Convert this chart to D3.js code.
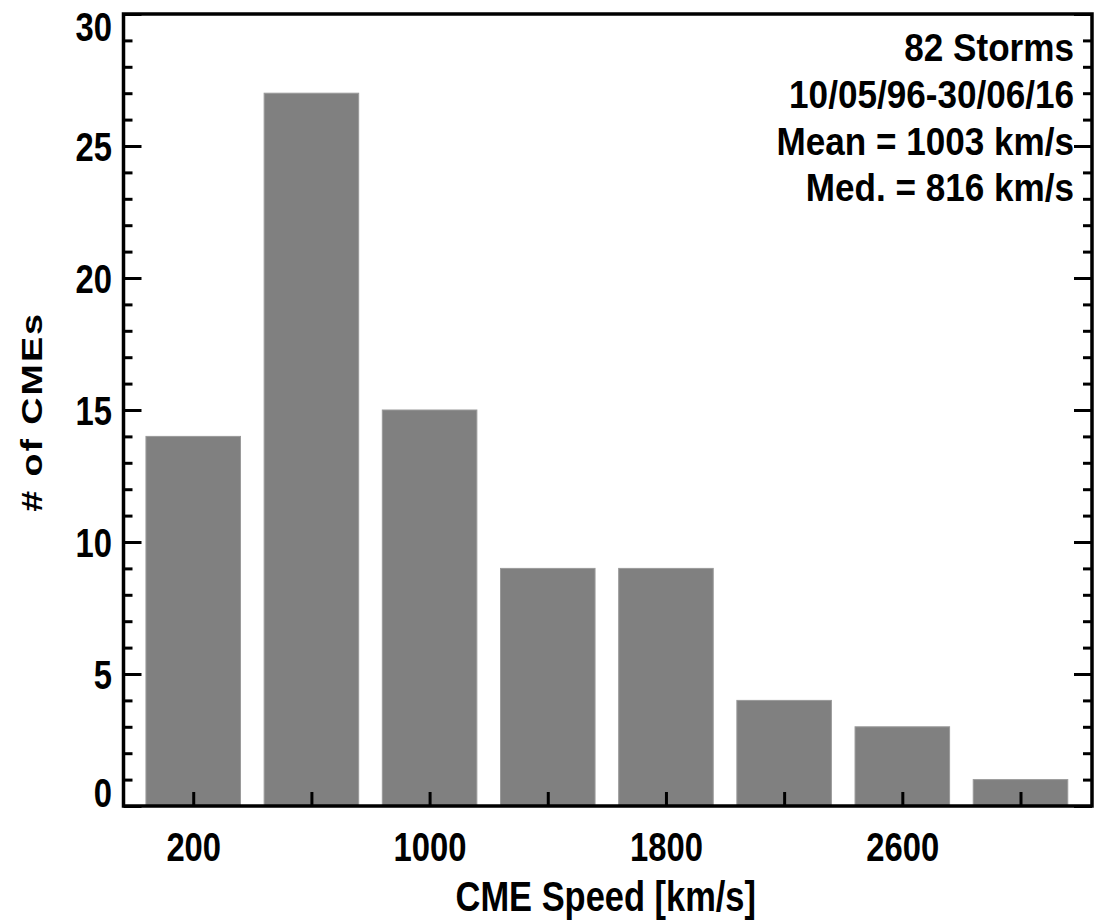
<!DOCTYPE html>
<html>
<head>
<meta charset="utf-8">
<script src="https://cdn.jsdelivr.net/npm/d3@7"></script>
<style>
  html, body { margin: 0; padding: 0; background: #fff; }
  svg { display: block; }
  .lbl { font-family: "Liberation Sans", Arial, Helvetica, sans-serif; font-weight: bold; fill: #000; }
</style>
</head>
<body>
<svg id="chart" width="1110" height="923"></svg>
<script>
// Histogram of CME speeds (bin width 400 km/s, centred on bin mid-points)
const binCenters = [200, 600, 1000, 1400, 1800, 2200, 2600, 3000];
const counts = [14, 27, 15, 9, 9, 4, 3, 1];
const binWidth = 400;
const xTickValues = [200, 600, 1000, 1400, 1800, 2200, 2600, 3000];
const xTickLabels = ["200", "", "1000", "", "1800", "", "2600", ""];
const yMajorTicks = [0, 5, 10, 15, 20, 25, 30];
const yMinorTicks = d3.range(0, 31, 1);
const notes = ["82 Storms", "10/05/96-30/06/16", "Mean = 1003 km/s", "Med. = 816 km/s"];
const xTitle = "CME Speed [km/s]";
const yTitle = "# of CMEs";

const svg = d3.select("#chart");
const plotL = 123.5, plotR = 1092, plotT = 14, plotB = 806;

// horizontal squeeze used for the condensed lettering
const tickSX = 0.82, noteSX = 0.9, titleSX = 0.82;

const x = d3.scaleLinear().domain([-36, 3242]).range([plotL, plotR]);
const y = d3.scaleLinear().domain([0, 30]).range([plotB, plotT]);

// bars: 80% of the bin width
svg.append("g").selectAll("rect")
  .data(binCenters.map((c, i) => ({ c, v: counts[i] })))
  .join("rect")
  .attr("x", d => x(d.c - binWidth * 0.4))
  .attr("width", d => x(d.c + binWidth * 0.4) - x(d.c - binWidth * 0.4))
  .attr("y", d => y(d.v))
  .attr("height", d => y(0) - y(d.v))
  .attr("fill", "#808080")
  .attr("stroke", "#9a9a9a")
  .attr("stroke-width", 1);

// frame
svg.append("rect")
  .attr("x", plotL).attr("y", plotT)
  .attr("width", plotR - plotL).attr("height", plotB - plotT)
  .attr("fill", "none").attr("stroke", "#000").attr("stroke-width", 3.5);

// x axis: ticks pointing inward, labels on every other tick
const xAxis = d3.axisBottom(x)
  .tickValues(xTickValues)
  .tickSizeInner(-14)
  .tickSizeOuter(0)
  .tickPadding(27)
  .tickFormat((d, i) => xTickLabels[i]);
const gx = svg.append("g").attr("transform", `translate(0,${plotB})`).call(xAxis);
gx.select(".domain").remove();
gx.selectAll("line").attr("stroke", "#000").attr("stroke-width", 3);
gx.selectAll("text").attr("class", "lbl").attr("font-size", 40)
  .attr("dy", "0.71em").attr("transform", `scale(${tickSX},1)`);

// y axis (left): major ticks with labels, minor ticks every unit
const yMinorL = d3.axisLeft(y).tickValues(yMinorTicks.filter(v => v % 5 !== 0))
  .tickSizeInner(-9).tickSizeOuter(0).tickFormat("");
const gyMinor = svg.append("g").attr("transform", `translate(${plotL},0)`).call(yMinorL);
gyMinor.select(".domain").remove();
gyMinor.selectAll("line").attr("stroke", "#000").attr("stroke-width", 3);

const yAxisL = d3.axisLeft(y).tickValues(yMajorTicks)
  .tickSizeInner(-18).tickSizeOuter(0).tickFormat(d3.format("d"));
const gy = svg.append("g").attr("transform", `translate(${plotL},0)`).call(yAxisL);
gy.select(".domain").remove();
gy.selectAll("line").attr("stroke", "#000").attr("stroke-width", 3);
// labels at the ends of the range are kept inside the frame height
gy.selectAll("text").attr("class", "lbl").attr("font-size", 40)
  .attr("x", -11.5 / tickSX)
  .attr("y", d => d === 30 ? 12 : d === 0 ? -14 : 0)
  .attr("dy", "0.36em")
  .attr("transform", `scale(${tickSX},1)`);

// y axis (right): mirrored ticks, no labels
const yMinorR = d3.axisRight(y).tickValues(yMinorTicks.filter(v => v % 5 !== 0))
  .tickSizeInner(-9).tickSizeOuter(0).tickFormat("");
const gyr1 = svg.append("g").attr("transform", `translate(${plotR},0)`).call(yMinorR);
gyr1.select(".domain").remove();
gyr1.selectAll("line").attr("stroke", "#000").attr("stroke-width", 3);
const yMajorR = d3.axisRight(y).tickValues(yMajorTicks)
  .tickSizeInner(-18).tickSizeOuter(0).tickFormat("");
const gyr2 = svg.append("g").attr("transform", `translate(${plotR},0)`).call(yMajorR);
gyr2.select(".domain").remove();
gyr2.selectAll("line").attr("stroke", "#000").attr("stroke-width", 3);

// axis titles
svg.append("text").attr("class", "lbl")
  .attr("transform", `translate(${(plotL + plotR) / 2 - 2},911) scale(${titleSX},1)`)
  .attr("text-anchor", "middle").attr("font-size", 42)
  .text(xTitle);

svg.append("text").attr("class", "lbl")
  .attr("transform", `translate(42,${(plotT + plotB) / 2 + 2}) rotate(-90) scale(1.3,1)`)
  .attr("text-anchor", "middle")
  .attr("font-size", 29)
  .attr("letter-spacing", 1.5)
  .text(yTitle);

// annotation block, right-aligned inside the frame
const noteBaselines = [61, 108, 155, 201];
svg.append("g").selectAll("text")
  .data(notes)
  .join("text")
  .attr("class", "lbl")
  .attr("transform", (d, i) => `translate(1074,${noteBaselines[i]}) scale(${noteSX},1)`)
  .attr("text-anchor", "end")
  .attr("font-size", 39)
  .text(d => d);
</script>
</body>
</html>
